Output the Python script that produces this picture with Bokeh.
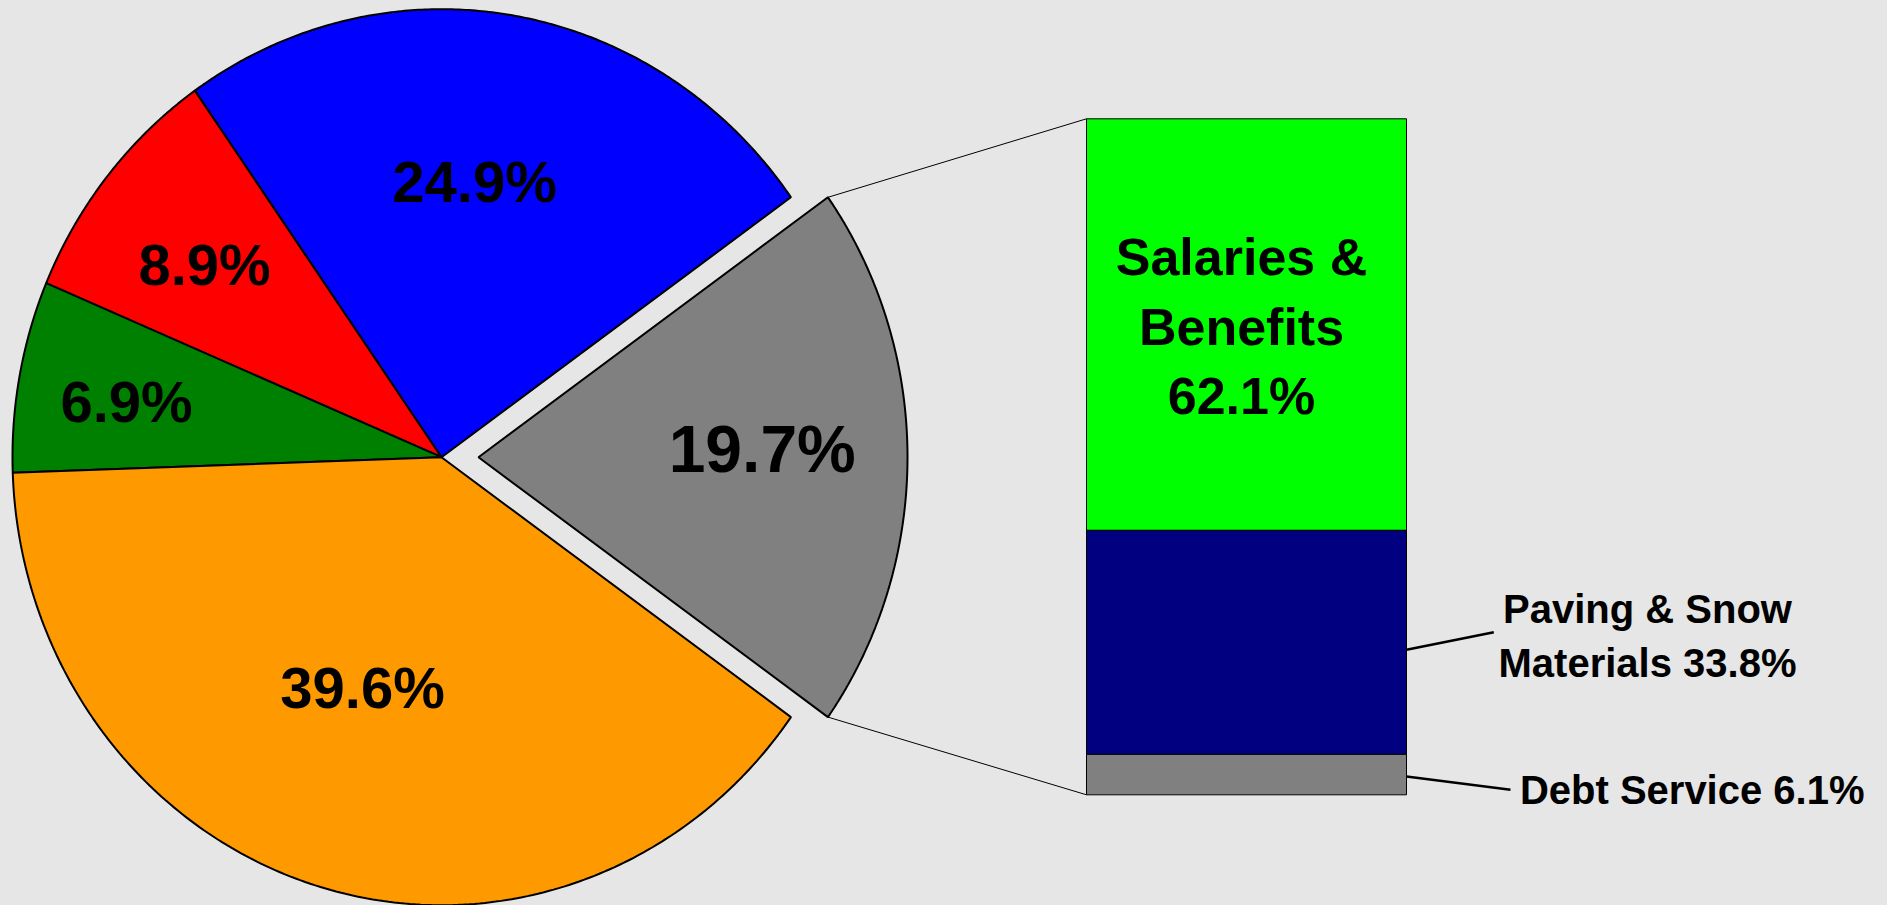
import numpy as np
from bokeh.plotting import figure
from bokeh.models import Range1d, GlobalInlineStyleSheet
from bokeh.core.properties import value
from bokeh.embed import file_html
from bokeh.resources import INLINE

# ---------------- data ----------------
pie_labels = ["19.7%", "24.9%", "8.9%", "6.9%", "39.6%"]
pie_values = [19.7, 24.9, 8.9, 6.9, 39.6]
pie_colors = ["#808080", "#0000ff", "#ff0000", "#008000", "#ff9900"]

bar_names = ["Salaries & Benefits", "Paving & Snow Materials", "Debt Service"]
bar_values = [62.1, 33.8, 6.1]
bar_colors = ["#00ff00", "#000080", "#808080"]
bar_label_lines = [["Salaries &", "Benefits", "62.1%"],
                   ["Paving & Snow", "Materials 33.8%"],
                   ["Debt Service 6.1%"]]

# ---------------- layout (pixel-like data units, y downwards) ----------------
W, H = 1871, 905
BG = "#e6e6e6"
CX, CY = 441.0, 456.7
RX, RY = 429.0, 448.0
EXPLODE = 37.0
BAR_L, BAR_R = 1086.0, 1406.0
BAR_TOP, BAR_BOTTOM = 118.3, 794.3
FONT = value("Liberation Sans")
SHIFT = 0.32  # baseline correction, in em


def fix(ys, size):
    return [y - SHIFT * size for y in ys]


p = figure(width=W, height=H, output_backend="svg", toolbar_location=None,
           x_range=Range1d(0, W), y_range=Range1d(H, 0), min_border=0)
p.axis.visible = False
p.grid.visible = False
p.outline_line_color = None
p.background_fill_color = BG
p.border_fill_color = BG
p.stylesheets = [GlobalInlineStyleSheet(css="body { background-color: %s; }" % BG)]

# ---------------- pie ----------------
fr = np.array(pie_values) / sum(pie_values)
ang = np.concatenate([[0.0], np.cumsum(fr) * 2 * np.pi]) - fr[0] * np.pi
xs, ys = [], []
offsets = []
for i in range(len(pie_values)):
    a0, a1 = ang[i], ang[i + 1]
    mid = 0.5 * (a0 + a1)
    off = EXPLODE if i == 0 else 0.0
    ox, oy = off * np.cos(mid), -off * np.sin(mid)
    offsets.append((ox, oy))
    t = np.linspace(a0, a1, 200)
    cx, cy = CX + ox, CY + oy
    xs.append([cx] + list(cx + RX * np.cos(t)) + [cx])
    ys.append([cy] + list(cy - RY * np.sin(t)) + [cy])
p.patches(xs=xs, ys=ys, fill_color=pie_colors, line_color="black", line_width=2)

# pie labels
pie_label_x = [761.7, 474.0, 204.0, 126.0, 362.0]
pie_label_y = [469.5, 199.3, 283.0, 420.0, 706.0]
pie_label_size = [66, 58, 58, 58, 58]
p.text(x=pie_label_x, y=[y - SHIFT * s for y, s in zip(pie_label_y, pie_label_size)],
       text=pie_labels, text_font=FONT,
       text_font_style="bold", text_font_size=["%dpx" % s for s in pie_label_size],
       text_align="center", text_baseline="alphabetic", text_color="black")

# ---------------- bar of pie ----------------
scale = (BAR_BOTTOM - BAR_TOP) / sum(bar_values)
tops = BAR_TOP + np.concatenate([[0.0], np.cumsum(bar_values)[:-1]]) * scale
bottoms = BAR_TOP + np.cumsum(bar_values) * scale
p.quad(left=BAR_L, right=BAR_R, top=tops, bottom=bottoms,
       fill_color=bar_colors, line_color="black", line_width=1)

# connector lines from the exploded slice to the bar
g_ox, g_oy = offsets[0]
gx_top = CX + g_ox + RX * np.cos(ang[1]); gy_top = CY + g_oy - RY * np.sin(ang[1])
gx_bot = CX + g_ox + RX * np.cos(ang[0]); gy_bot = CY + g_oy - RY * np.sin(ang[0])
p.segment(x0=[gx_top, gx_bot], y0=[gy_top, gy_bot],
          x1=[BAR_L, BAR_L], y1=[BAR_TOP, BAR_BOTTOM], line_color="black", line_width=1)

# label inside the green segment
p.text(x=[1241.0] * 3, y=fix([273.3, 343.3, 411.7], 52), text=bar_label_lines[0], text_font=FONT,
       text_font_style="bold", text_font_size="52px", text_align="center",
       text_baseline="alphabetic", text_color="black")

# outside labels with leader lines
p.segment(x0=[BAR_R, BAR_R], y0=[649.3, 776.0], x1=[1493.3, 1510.0], y1=[631.7, 789.3],
          line_color="black", line_width=2.5)
p.text(x=[1647.0, 1647.0], y=fix([621.7, 675.0], 40), text=bar_label_lines[1], text_font=FONT,
       text_font_style="bold", text_font_size="40px", text_align="center",
       text_baseline="alphabetic", text_color="black")
p.text(x=[1691.7], y=fix([802.0], 40), text=bar_label_lines[2], text_font=FONT,
       text_font_style="bold", text_font_size="40px", text_align="center",
       text_baseline="alphabetic", text_color="black")

open("out.html", "w").write(file_html(p, INLINE))
